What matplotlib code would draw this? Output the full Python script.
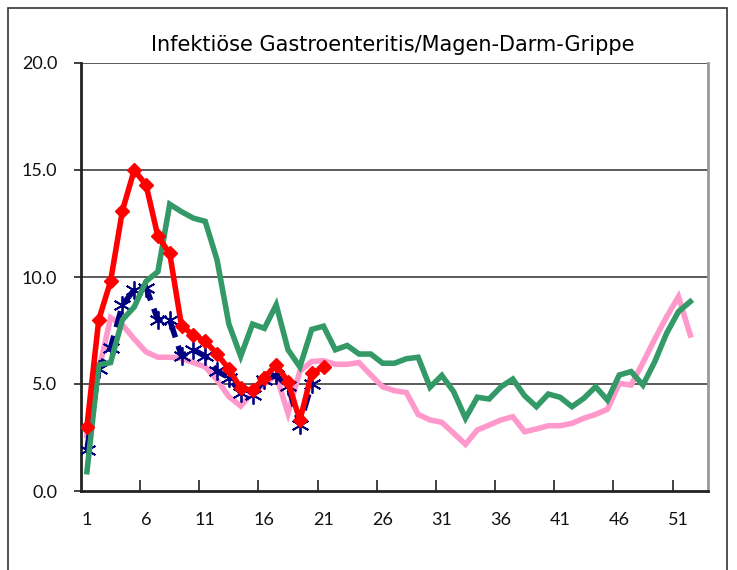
#Infektioese Gastroenteritis chart
#weekly values per season, weeks 1-53 on a category axis

import numpy as np
import matplotlib.pyplot as plt
from matplotlib.patches import Rectangle

title = "Infektiöse Gastroenteritis/Magen-Darm-Grippe"

# weeks shown on the axis
weeks = np.arange(1, 54)
week_labels = [str(w) for w in range(1, 53, 5)]

# red season (weeks 1-21)
red_values = [3.0, 8.0, 9.8, 13.1, 15.0, 14.3, 11.9, 11.1, 7.7, 7.3, 7.0,
              6.4, 5.7, 4.8, 4.7, 5.3, 5.9, 5.1, 3.3, 5.5, 5.8]

# blue season (weeks 1-20)
blue_values = [1.9, 5.7, 6.7, 8.7, 9.4, 9.5, 8.0, 8.0, 6.3, 6.6, 6.3,
               5.6, 5.3, 4.6, 4.5, 5.2, 5.4, 4.9, 3.1, 5.0]

# green season (weeks 1-52)
green_values = [0.9, 5.9, 6.0, 8.0, 8.6, 9.8, 10.25, 13.4, 13.05, 12.75, 12.6,
                10.8, 7.8, 6.3, 7.8, 7.6, 8.7, 6.6, 5.8, 7.55, 7.7, 6.6,
                6.8, 6.4, 6.4, 5.97, 5.97, 6.18, 6.25, 4.85, 5.4, 4.64, 3.4,
                4.38, 4.3, 4.87, 5.23, 4.45, 3.94, 4.53, 4.38, 3.94, 4.33,
                4.87, 4.25, 5.42, 5.58, 4.95, 6.04, 7.37, 8.38, 8.85]

# pink season (weeks 1-52)
pink_values = [2.6, 5.6, 8.1, 7.76, 7.1, 6.5, 6.25, 6.25, 6.2, 6.0, 5.8,
               5.19, 4.41, 3.97, 4.6, 5.0, 5.4, 3.63, 5.6, 6.05, 6.09, 5.92,
               5.92, 6.0, 5.42, 4.87, 4.69, 4.6, 3.58, 3.32, 3.21, 2.7, 2.18,
               2.85, 3.08, 3.32, 3.47, 2.77, 2.9, 3.05, 3.05, 3.16, 3.4,
               3.58, 3.82, 5.03, 4.95, 6.0, 7.1, 8.14, 9.08, 7.29]

y_ticks = [0, 5, 10, 15, 20]

fig = plt.figure(figsize=(7.37, 5.70), dpi=100)
ax = fig.add_axes([81/737, 1-491/570, (708-81)/737, (491-63)/570])

# outer chart frame
fig.patches.append(Rectangle((8/737, -0.05), (727-8)/737, 1.05-8/570,
                             transform=fig.transFigure, fill=False,
                             edgecolor='#333333', linewidth=1.2))

# horizontal grid lines
for v in y_ticks[1:]:
    ax.axhline(v, color='#4d4d4d', linewidth=1.3, zorder=1)

ax.plot(weeks[:len(pink_values)], pink_values, color='#ff99cc',
        linewidth=4, solid_joinstyle='miter', zorder=2)
ax.plot(weeks[:len(blue_values)], blue_values, color='#000080',
        linewidth=4, linestyle=(0, (3, 1.6)), marker=(6, 2, 0),
        markersize=13, markeredgewidth=1.3, zorder=3)
ax.plot(weeks[:len(green_values)], green_values, color='#339966',
        linewidth=4, solid_joinstyle='miter', zorder=4)
ax.plot(weeks[:len(red_values)], red_values, color='#ff0000',
        linewidth=4, marker='D', markersize=7.5, zorder=5)

ax.set_xlim(0.5, 53.5)
ax.set_ylim(0, 20)

# tick marks between categories, labels on the category centres
ax.set_xticks(np.arange(5.5, 51, 5))
ax.set_xticklabels([])
ax.set_xticks(np.arange(1, 53, 5), minor=True)
ax.set_xticklabels(week_labels, minor=True)
ax.tick_params(axis='x', which='major', direction='in', length=8,
               width=1.3, color='#333333')
ax.tick_params(axis='x', which='minor', length=0, pad=15, labelsize=13)

ax.set_yticks(y_ticks)
ax.set_yticklabels(["%.1f" % v for v in y_ticks])
ax.tick_params(axis='y', direction='out', length=5, width=1.3,
               color='#333333', pad=12, labelsize=13)

for lab in ax.get_xticklabels(minor=True) + ax.get_yticklabels():
    lab.set_family(['Lato', 'DejaVu Sans'])
    lab.set_color('#111111')

ax.spines['left'].set_linewidth(2)
ax.spines['left'].set_color('#222222')
ax.spines['bottom'].set_linewidth(2)
ax.spines['bottom'].set_color('#222222')
ax.spines['right'].set_linewidth(2)
ax.spines['right'].set_color('#999999')
ax.spines['top'].set_visible(False)

fig.text(393/737, 1-45/570, title, ha='center', va='center', fontsize=15,
         family=['Liberation Sans Narrow', 'DejaVu Sans'])

fig.savefig('out.png', dpi=100)
